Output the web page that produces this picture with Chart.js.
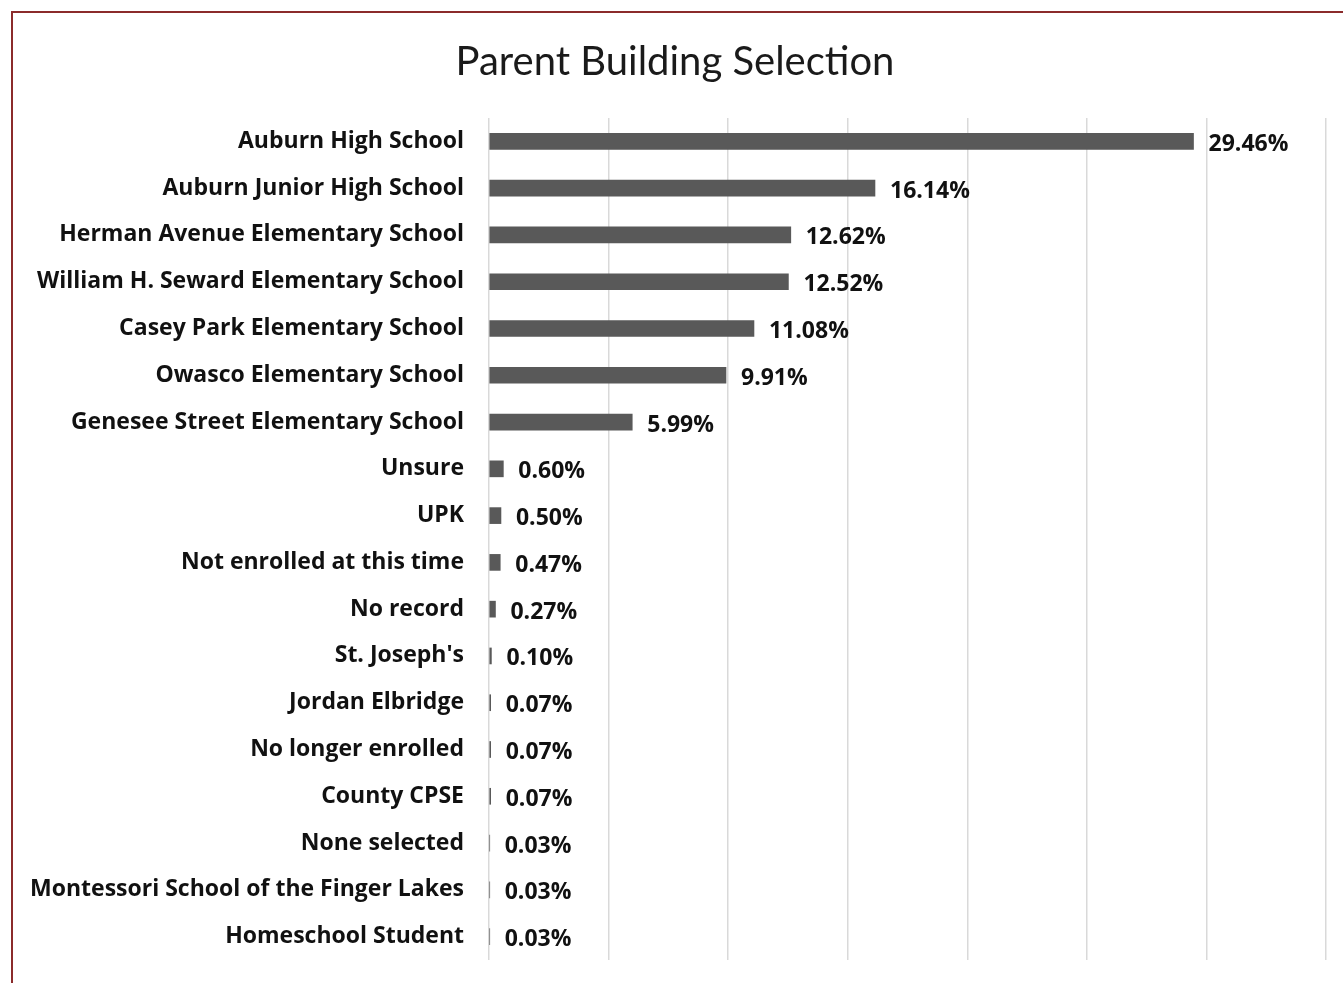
<!DOCTYPE html>
<html>
<head>
<meta charset="utf-8">
<script src="https://cdn.jsdelivr.net/npm/chart.js@4.4.0/dist/chart.umd.min.js"></script>
<style>
  html, body { margin: 0; padding: 0; background: #fff; overflow: hidden; }
  #frame {
    position: absolute; left: 11px; top: 11px;
    width: 1400px; height: 1100px;
    border-top: 2px solid #8b2b2b; border-left: 2px solid #8b2b2b;
  }
  #wrap { position: absolute; left: 0; top: 0; width: 1343px; height: 983px; }
</style>
</head>
<body>
<div id="frame"></div>
<div id="wrap"><canvas id="chart"></canvas></div>
<script>
const schools = [
  "Auburn High School",
  "Auburn Junior High School",
  "Herman Avenue Elementary School",
  "William H. Seward Elementary School",
  "Casey Park Elementary School",
  "Owasco Elementary School",
  "Genesee Street Elementary School",
  "Unsure",
  "UPK",
  "Not enrolled at this time",
  "No record",
  "St. Joseph's",
  "Jordan Elbridge",
  "No longer enrolled",
  "County CPSE",
  "None selected",
  "Montessori School of the Finger Lakes",
  "Homeschool Student",
];
const percents = [29.46, 16.14, 12.62, 12.52, 11.08, 9.91, 5.99, 0.60, 0.50, 0.47, 0.27, 0.10, 0.07, 0.07, 0.07, 0.03, 0.03, 0.03];

const LABEL_FONT = "'Open Sans', sans-serif";

// draws "12.34%" just past the end of each bar
const valueLabels = {
  id: "valueLabels",
  afterDatasetsDraw(chart) {
    const ctx = chart.ctx;
    const meta = chart.getDatasetMeta(0);
    ctx.save();
    ctx.font = "bold 23px " + LABEL_FONT;
    ctx.fillStyle = "#111";
    ctx.textAlign = "left";
    ctx.textBaseline = "middle";
    meta.data.forEach((bar, i) => {
      ctx.fillText(percents[i].toFixed(2) + "%", bar.x + 15, bar.y + 3);
    });
    ctx.restore();
  },
};

new Chart(document.getElementById("chart"), {
  type: "bar",
  data: {
    labels: schools,
    datasets: [
      {
        data: percents,
        backgroundColor: "#595959",
        barThickness: 16,
      },
    ],
  },
  options: {
    indexAxis: "y",
    responsive: true,
    maintainAspectRatio: false,
    animation: false,
    layout: { padding: { top: 38, right: 17, bottom: 23, left: 24 } },
    scales: {
      x: {
        min: 0,
        max: 35,
        ticks: { display: false, stepSize: 5 },
        grid: { color: "#d9d9d9", lineWidth: 1.5, drawTicks: false },
        border: { display: false },
        afterFit: (scale) => {
          scale.height = 0;
        },
      },
      y: {
        ticks: {
          color: "#111",
          padding: 25,
          font: { family: LABEL_FONT, size: 23, weight: "bold" },
        },
        grid: { display: false, drawTicks: false },
        border: { display: false },
        afterFit: (scale) => {
          scale.width = 465; //fixed so the plot starts where the original does
          // labels sit inside the category bands, no extra room needed
          scale.paddingTop = 0;
          scale.paddingBottom = 0;
        },
      },
    },
    plugins: {
      legend: { display: false },
      tooltip: { enabled: false },
      title: {
        display: true,
        text: "Parent Building Selection",
        color: "#1a1a1a",
        font: { family: "Lato, sans-serif", size: 40, weight: "normal" },
        padding: { top: 0, bottom: 32 },
      },
    },
  },
  plugins: [valueLabels],
});
</script>
</body>
</html>
